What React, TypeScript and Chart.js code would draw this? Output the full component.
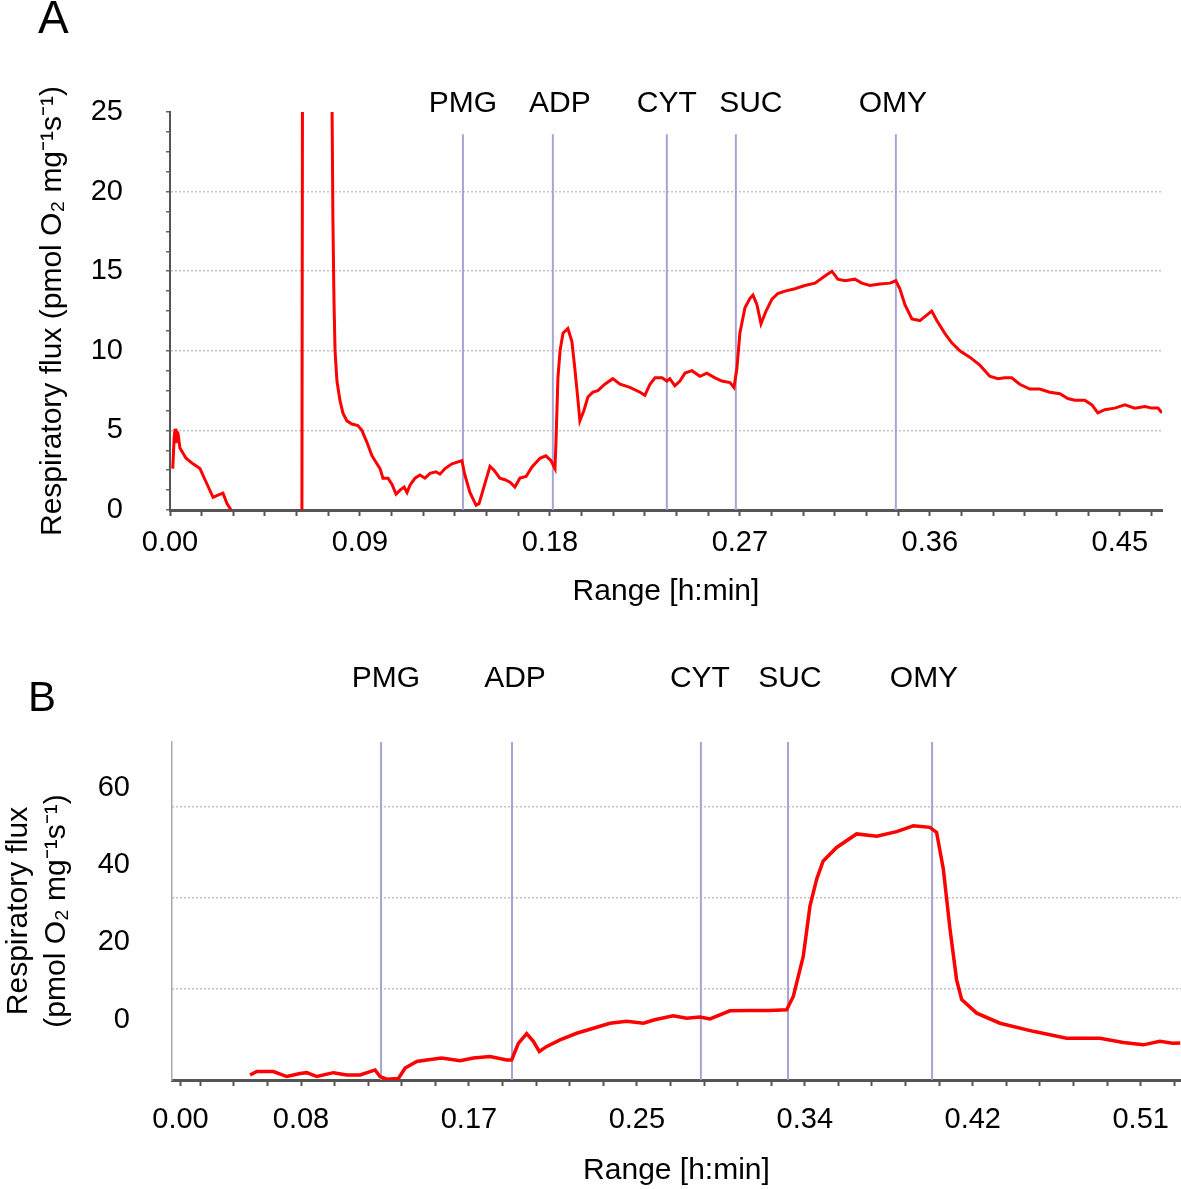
import React, { useEffect, useRef } from 'react';
import { Chart, registerables } from 'chart.js';

Chart.register(...registerables);

const FONT = '"Liberation Sans", Arial, Helvetica, sans-serif';
const RED = '#ff0000';
const EVENT_COLOR = 'rgba(160,160,210,0.95)';
const GRID_COLOR = 'rgba(185,185,205,0.9)';
const AXIS_DARK = '#555555';

// ---------- shared ----------
const eventNames = ['PMG', 'ADP', 'CYT', 'SUC', 'OMY'];
const yTitleA = 'Respiratory flux (pmol O\u2082 mg\u207B\u00B9s\u207B\u00B9)';
const yTitleB = ['Respiratory flux', '(pmol O\u2082 mg\u207B\u00B9s\u207B\u00B9)'];
const xTitle = 'Range [h:min]';

// ---------- Panel A (x in minutes) ----------
const timeA = [
  0.13, 0.2, 0.24, 0.28, 0.33, 0.38, 0.47, 0.76, 1.09, 1.42, 1.66, 2.04, 2.27, 2.51, 2.7, 2.89, 2.95,
  6.25, 6.28, 6.3,
  7.65, 7.72, 7.77, 7.82, 7.91, 8.05, 8.19, 8.38, 8.62, 8.9, 9.09, 9.33, 9.57, 9.76, 9.95, 10.09, 10.33,
  10.52, 10.71, 10.9, 11.09, 11.23, 11.37, 11.61, 11.84, 12.08, 12.32, 12.6, 12.79, 13.03, 13.36, 13.83,
  13.97, 14.21, 14.5, 14.64, 14.83, 15.16, 15.35, 15.63, 15.87, 16.11, 16.34, 16.58, 16.87, 17.15, 17.53,
  17.81, 18.05, 18.24, 18.29, 18.38, 18.48, 18.62, 18.85, 19.04, 19.18, 19.33, 19.42, 19.61, 19.8, 20.04,
  20.27, 20.6, 20.98, 21.32, 21.79, 22.27, 22.5, 22.74, 22.98, 23.31, 23.54, 23.68, 23.92, 24.16, 24.4,
  24.73, 25.11, 25.44, 25.82, 26.15, 26.53, 26.72, 26.86, 27.0, 27.24, 27.48, 27.62, 27.81, 28.0, 28.24,
  28.52, 28.8, 29.14, 29.61, 30.08, 30.56, 31.03, 31.36, 31.64, 31.98, 32.45, 32.78, 33.16, 33.63, 34.11,
  34.39, 34.58, 34.82, 35.15, 35.53, 35.91, 36.09, 36.33, 36.71, 37.04, 37.42, 37.89, 38.37, 38.84, 39.22,
  39.55, 39.88, 40.26, 40.74, 41.21, 41.68, 42.16, 42.54, 42.87, 43.34, 43.68, 43.96, 44.29, 44.76, 45.24,
  45.71, 46.19, 46.52, 46.81, 47.0,
];
const fluxA = [
  2.6, 4.6, 5.1, 4.2, 4.9, 4.8, 3.9, 3.25, 2.9, 2.6, 1.9, 0.8, 0.94, 1.06, 0.4, 0, null,
  0, 30, null,
  30, 18.1, 13.1, 10, 8.1, 6.9, 6.1, 5.6, 5.4, 5.3, 5.0, 4.25, 3.4, 3.0, 2.6, 2.0, 2.0,
  1.6, 1.0, 1.25, 1.44, 1.1, 1.56, 2.0, 2.2, 2.0, 2.3, 2.4, 2.25, 2.6, 2.9, 3.1,
  2.2, 1.1, 0.3, 0.4, 1.25, 2.75, 2.5, 2.0, 1.9, 1.75, 1.44, 2.0, 2.1, 2.7, 3.25,
  3.4, 3.1, 2.6, 4.4, 8.3, 10, 11.1, 11.4, 10.6, 8.9, 6.9, 5.6, 6.25, 7.1, 7.4,
  7.5, 7.9, 8.25, 7.9, 7.7, 7.4, 7.2, 7.9, 8.3, 8.3, 8.1, 8.25, 7.8, 8.1, 8.6,
  8.75, 8.4, 8.6, 8.3, 8.1, 8.0, 7.7, 8.9, 11.1, 12.7, 13.3, 13.5, 12.9, 11.7, 12.5,
  13.25, 13.6, 13.75, 13.9, 14.1, 14.25, 14.7, 15.0, 14.5, 14.4, 14.5, 14.25, 14.1, 14.2, 14.25,
  14.4, 13.9, 12.9, 12.0, 11.9, 12.3, 12.5, 11.9, 11.1, 10.5, 10.0, 9.6, 9.1, 8.4, 8.25,
  8.3, 8.3, 7.9, 7.6, 7.6, 7.4, 7.3, 7.0, 6.9, 6.9, 6.6, 6.1, 6.3, 6.4, 6.6,
  6.4, 6.5, 6.4, 6.4, 6.1,
];
const eventTimesA = [13.88, 18.14, 23.54, 26.81, 34.39];
const labelTimesA = [13.88, 18.47, 23.54, 27.52, 34.25];
const eventLineTopA = 23.6;
const xMinA = 0;
const xMaxA = 47.0;
const xTicksA = [0, 9, 18, 27, 36, 45];
const xTickLabelsA = ['0.00', '0.09', '0.18', '0.27', '0.36', '0.45'];
const yMinA = 0;
const yMaxA = 25;
const yTicksA = [0, 5, 10, 15, 20, 25];
const yGridA = [5, 10, 15, 20];

// ---------- Panel B (x in minutes) ----------
const timeB = [
  5.92, 6.26, 7.1, 7.78, 8.45, 8.79, 9.3, 10.14, 10.81, 11.49, 12.25, 12.5, 12.84, 13.43, 13.77, 14.36,
  14.86, 15.62, 16.55, 17.22, 18.07, 18.91, 19.16, 19.5, 19.92, 20.26, 20.56, 20.94, 21.61, 22.45, 23.3,
  24.14, 24.98, 25.83, 26.4, 27.34, 28.02, 28.69, 29.2, 30.21, 31.22, 32.24, 33.08, 33.42, 33.92, 34.26,
  34.6, 34.93, 35.61, 36.62, 37.64, 38.65, 39.49, 40.33, 40.67, 41.01, 41.35, 41.68, 41.94, 42.7, 43.88,
  45.56, 47.25, 48.94, 50.12, 51.13, 51.97, 52.62, 53.0,
];
const fluxB = [
  -14.3, -13.4, -13.4, -14.7, -13.9, -13.7, -14.7, -13.7, -14.3, -14.3, -13.0, -14.7, -15.4, -15.2, -12.5, -10.8,
  -10.4, -9.9, -10.6, -9.9, -9.5, -10.4, -10.4, -6.1, -3.6, -5.6, -8.2, -6.9, -5.2, -3.5, -2.2,
  -0.9, -0.4, -0.9, 0.0, 1.0, 0.4, 0.7, 0.2, 2.3, 2.4, 2.4, 2.6, 6.1, 16.4, 29.4,
  36.4, 41.1, 44.6, 48.1, 47.5, 48.7, 50.2, 49.8, 48.5, 39.0, 23.4, 10.4, 5.2, 1.7, -0.9,
  -3.0, -4.8, -4.8, -5.9, -6.5, -5.6, -6.1, -6.0,
];
const eventTimesB = [12.55, 19.18, 28.74, 33.15, 40.44];
const labelTimesB = [12.8, 19.33, 28.69, 33.25, 40.03];
const xMinB = 1.97;
const xMaxB = 53.04;
const xTicksB = [2.4, 8.5, 17, 25.5, 34, 42.5, 51];
const xTickLabelsB = ['0.00', '0.08', '0.17', '0.25', '0.34', '0.42', '0.51'];
const yMinB = -15.6;
const yMaxB = 71.9;
const yTicksB = [0, 20, 40, 60];
const gridMaxB = 74.3;
const gridValuesB = [20, 40, 60];

// ---------- helpers ----------
function buildTicks(min: number, max: number, step: number, majors: number[]) {
  const vals: number[] = [];
  for (let k = Math.ceil(min / step - 1e-9); k * step <= max + 1e-9; k++) {
    vals.push(Math.round(k * step * 1000) / 1000);
  }
  majors.forEach((v) => {
    if (v >= min - 1e-9 && v <= max + 1e-9 && !vals.some((u) => Math.abs(u - v) < 1e-6)) vals.push(v);
  });
  vals.sort((a, b) => a - b);
  return vals.map((value) => ({ value }));
}
function labelFor(value: number, ticks: number[], labels: string[]) {
  const i = ticks.findIndex((t) => Math.abs(t - value) < 1e-6);
  return i >= 0 ? labels[i] : '';
}
function hasValue(list: number[], v: any) {
  return typeof v === 'number' && list.some((t) => Math.abs(t - v) < 1e-6);
}

const eventLabelPlugin = {
  id: 'eventLabels',
  afterDraw(chart: any, _args: any, opts: any) {
    const { ctx, chartArea, scales } = chart;
    ctx.save();
    ctx.font = `30px ${FONT}`;
    ctx.fillStyle = '#000';
    ctx.textAlign = 'center';
    ctx.textBaseline = 'alphabetic';
    (opts.names as string[]).forEach((n, i) => {
      ctx.fillText(n, scales.x.getPixelForValue(opts.times[i]), chartArea.top - opts.gap);
    });
    ctx.restore();
  },
};

const tickFont = { family: FONT, size: 29 };
const titleFont = { family: FONT, size: 30 };

function configA(): any {
  const trace = timeA.map((t, i) => ({ x: t, y: fluxA[i] }));
  const events = eventTimesA.map((t) => ({
    data: [{ x: t, y: yMinA }, { x: t, y: eventLineTopA }],
    borderColor: EVENT_COLOR,
    borderWidth: 2,
    pointRadius: 0,
  }));
  return {
    type: 'line',
    data: {
      datasets: [
        { data: trace, borderColor: RED, borderWidth: 3, pointRadius: 0, spanGaps: false, tension: 0 },
        ...events,
      ],
    },
    options: {
      responsive: false,
      animation: false,
      events: [],
      layout: { padding: { top: 112, right: 19, left: 0, bottom: 0 } },
      plugins: {
        legend: { display: false },
        tooltip: { enabled: false },
        eventLabels: { names: eventNames, times: labelTimesA, gap: 0 },
      },
      scales: {
        x: {
          type: 'linear',
          min: xMinA,
          max: xMaxA,
          afterBuildTicks: (s: any) => {
            s.ticks = buildTicks(xMinA, xMaxA - 0.2, 1.5, xTicksA);
          },
          afterFit: (s: any) => {
            s.height = 110;
            s.paddingLeft = 0;
            s.paddingRight = 0;
          },
          ticks: {
            autoSkip: false,
            maxRotation: 0,
            minRotation: 0,
            padding: 10,
            color: '#000',
            font: tickFont,
            callback: (v: number) => labelFor(v, xTicksA, xTickLabelsA),
          },
          grid: { drawOnChartArea: false, drawTicks: true, tickLength: 6, tickColor: AXIS_DARK, tickWidth: 2 },
          border: { display: true, color: AXIS_DARK, width: 3 },
          title: { display: true, text: xTitle, color: '#000', font: titleFont, padding: { top: 0, bottom: 10 } },
        },
        y: {
          type: 'linear',
          min: yMinA,
          max: yMaxA,
          afterBuildTicks: (s: any) => {
            s.ticks = buildTicks(yMinA, yMaxA, 1.25, yTicksA);
          },
          afterFit: (s: any) => {
            s.width = 170;
          },
          ticks: {
            autoSkip: false,
            padding: 43,
            color: '#000',
            font: tickFont,
            callback: (v: number) => (hasValue(yTicksA, v) ? String(v) : ''),
          },
          grid: {
            color: (c: any) => (hasValue(yGridA, c.tick && c.tick.value) ? GRID_COLOR : 'rgba(0,0,0,0)'),
            lineWidth: 1.5,
            drawTicks: true,
            tickLength: 4,
            tickColor: '#666666',
            tickWidth: 1.5,
          },
          border: { display: true, color: '#555555', width: 2, dash: [2, 2] },
          title: { display: true, text: yTitleA, color: '#000', font: titleFont, padding: { top: 35, bottom: 0 } },
        },
      },
    },
    plugins: [eventLabelPlugin],
  };
}

function configB(): any {
  const trace = timeB.map((t, i) => ({ x: t, y: fluxB[i] }));
  const events = eventTimesB.map((t) => ({
    data: [{ x: t, y: yMinB }, { x: t, y: yMaxB }],
    borderColor: EVENT_COLOR,
    borderWidth: 2,
    pointRadius: 0,
  }));
  return {
    type: 'line',
    data: {
      datasets: [
        { data: trace, borderColor: RED, borderWidth: 3.5, pointRadius: 0, spanGaps: false, tension: 0 },
        ...events,
      ],
    },
    options: {
      responsive: false,
      animation: false,
      events: [],
      layout: { padding: { top: 122, right: 0, left: 0, bottom: 0 } },
      plugins: {
        legend: { display: false },
        tooltip: { enabled: false },
        eventLabels: { names: eventNames, times: labelTimesB, gap: 55 },
      },
      scales: {
        x: {
          type: 'linear',
          min: xMinB,
          max: xMaxB,
          afterBuildTicks: (s: any) => {
            s.ticks = buildTicks(xMinB, xMaxB, 1.7, xTicksB);
          },
          afterFit: (s: any) => {
            s.height = 109;
            s.paddingLeft = 0;
            s.paddingRight = 0;
          },
          ticks: {
            autoSkip: false,
            maxRotation: 0,
            minRotation: 0,
            padding: 17,
            color: '#000',
            font: tickFont,
            callback: (v: number) => labelFor(v, xTicksB, xTickLabelsB),
          },
          grid: { drawOnChartArea: false, drawTicks: true, tickLength: 6, tickColor: AXIS_DARK, tickWidth: 2 },
          border: { display: true, color: AXIS_DARK, width: 3 },
          title: { display: true, text: xTitle, color: '#000', font: titleFont, padding: { top: 0, bottom: 0 } },
        },
        y: {
          type: 'linear',
          position: 'left',
          min: yMinB,
          max: yMaxB,
          afterBuildTicks: (s: any) => {
            s.ticks = yTicksB.map((value) => ({ value }));
          },
          afterFit: (s: any) => {
            s.width = 172;
          },
          ticks: { autoSkip: false, padding: 42, color: '#000', font: tickFont },
          grid: { display: false, drawTicks: false },
          border: { display: true, color: '#aaaaaa', width: 1.5 },
          title: {
            display: true,
            text: yTitleB,
            color: '#000',
            font: { family: FONT, size: 30, lineHeight: 1.25 },
            padding: { top: 0, bottom: 0 },
          },
        },
        y2: {
          type: 'linear',
          position: 'right',
          min: 0,
          max: gridMaxB,
          afterBuildTicks: (s: any) => {
            s.ticks = gridValuesB.map((value) => ({ value }));
          },
          afterFit: (s: any) => {
            s.width = 0;
          },
          ticks: { display: false },
          grid: { color: GRID_COLOR, lineWidth: 1.5, drawTicks: false },
          border: { display: false, dash: [2, 2] },
        },
      },
    },
    plugins: [eventLabelPlugin],
  };
}

function ChartCanvas({ make, width, height, top }: { make: () => any; width: number; height: number; top: number }) {
  const ref = useRef<HTMLCanvasElement>(null);
  useEffect(() => {
    if (!ref.current) return;
    const chart = new Chart(ref.current, make());
    return () => chart.destroy();
  }, []);
  return (
    <canvas
      ref={ref}
      width={width}
      height={height}
      style={{ position: 'absolute', left: 0, top, width, height, display: 'block' }}
    />
  );
}

export default function App() {
  const letter = (text: string, left: number, top: number, size: number) => (
    <div
      style={{
        position: 'absolute',
        left,
        top,
        fontFamily: FONT,
        fontSize: size,
        lineHeight: `${size}px`,
        color: '#000',
      }}
    >
      {text}
    </div>
  );
  return (
    <div
      style={{
        position: 'absolute',
        left: 0,
        top: 0,
        width: 1181,
        height: 1189,
        background: '#ffffff',
        overflow: 'hidden',
      }}
    >
      <ChartCanvas make={configA} width={1181} height={620} top={0} />
      <ChartCanvas make={configB} width={1181} height={569} top={620} />
      {letter('A', 38, -6, 46)}
      {letter('B', 28, 676, 42)}
    </div>
  );
}
